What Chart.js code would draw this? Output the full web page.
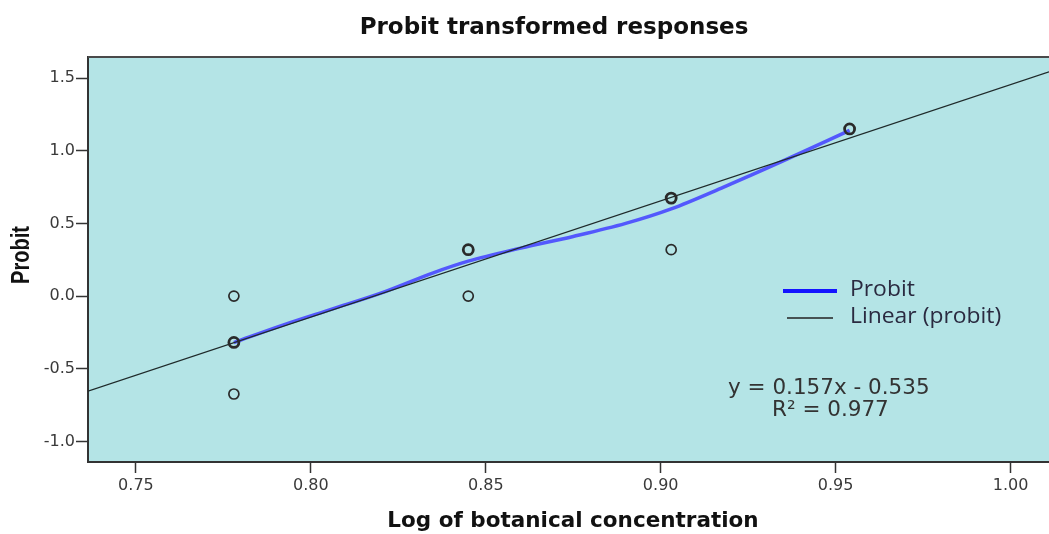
<!DOCTYPE html>
<html>
<head>
<meta charset="utf-8">
<script src="https://cdn.jsdelivr.net/npm/chart.js@4/dist/chart.umd.min.js"></script>
<style>
  html, body { margin: 0; padding: 0; background: #ffffff; }
  canvas { display: block; }
</style>
</head>
<body>
<canvas id="chart" width="1049" height="534"></canvas>
<script>
// Observed probit values at each log10 concentration (6, 7, 8, 9)
const obsX = [0.778, 0.778, 0.778, 0.845, 0.845, 0.903, 0.903, 0.954];
const obsY = [0.000, -0.319, -0.674, 0.319, 0.000, 0.674, 0.319, 1.150];
const obsCount = [1, 2, 1, 2, 1, 2, 1, 2];

// Smoothed probit curve
const curveX = [0.778, 0.792, 0.806, 0.820, 0.835, 0.845, 0.860, 0.875, 0.890, 0.903, 0.918, 0.935, 0.954];
const curveY = [-0.32, -0.20, -0.09, 0.02, 0.16, 0.24, 0.33, 0.41, 0.50, 0.60, 0.75, 0.93, 1.14];

// Linear trend (probit), end points across the plotted range
const trendX = [0.7363, 1.011];
const trendY = [-0.654, 1.543];

// Axis ticks
const xTicks = [0.75, 0.80, 0.85, 0.90, 0.95, 1.00];
const yTicks = [-1.0, -0.5, 0.0, 0.5, 1.0, 1.5];

const pts = (xs, ys) => xs.map((x, i) => ({ x: x, y: ys[i] }));

// Text drawn with a horizontal stretch around its anchor point
function stretchedText(ctx, text, x, y, sx) {
  ctx.save();
  ctx.translate(x, y);
  ctx.scale(sx, 1);
  ctx.fillText(text, 0, 0);
  ctx.restore();
}

const decorations = {
  id: 'decorations',
  beforeDraw(chart) {
    const { ctx, chartArea: a } = chart;
    ctx.save();
    ctx.fillStyle = '#ffffff';
    ctx.fillRect(0, 0, chart.width, chart.height);
    ctx.fillStyle = '#b4e4e6';
    ctx.fillRect(a.left, a.top, a.right - a.left, a.bottom - a.top);
    ctx.restore();
  },
  afterDraw(chart) {
    const { ctx, chartArea: a } = chart;
    ctx.save();
    // top frame line
    ctx.strokeStyle = '#4a4a4a';
    ctx.lineWidth = 2;
    ctx.beginPath();
    ctx.moveTo(a.left, a.top);
    ctx.lineTo(a.right, a.top);
    ctx.stroke();

    // title
    ctx.fillStyle = '#111111';
    ctx.textAlign = 'center';
    ctx.textBaseline = 'middle';
    ctx.font = 'bold 23px "DejaVu Sans"';
    ctx.fillText('Probit transformed responses', 554, 28);

    // x axis title
    ctx.font = 'bold 21.5px "DejaVu Sans"';
    ctx.fillText('Log of botanical concentration', 573, 521);

    // y axis title
    ctx.save();
    ctx.translate(22, 255);
    ctx.scale(1.3, 1);
    ctx.rotate(-Math.PI / 2);
    ctx.font = 'bold 20px "Liberation Sans"';
    ctx.fillText('Probit', 0, 0);
    ctx.restore();

    // legend
    ctx.lineCap = 'butt';
    ctx.strokeStyle = '#1414ff';
    ctx.lineWidth = 4;
    ctx.beginPath();
    ctx.moveTo(783, 291);
    ctx.lineTo(837, 291);
    ctx.stroke();
    ctx.strokeStyle = '#222222';
    ctx.lineWidth = 1.3;
    ctx.beginPath();
    ctx.moveTo(787, 318);
    ctx.lineTo(833, 318);
    ctx.stroke();
    ctx.fillStyle = '#2a2a40';
    ctx.textAlign = 'left';
    ctx.font = '21px "Open Sans"';
    stretchedText(ctx, 'Probit', 850, 290, 1.09);
    stretchedText(ctx, 'Linear (probit)', 850, 317, 1.09);

    // regression equation
    ctx.fillStyle = '#333333';
    ctx.font = '21.5px "DejaVu Sans"';
    ctx.fillText('y = 0.157x - 0.535', 728, 388);
    ctx.fillText('R\u00B2 = 0.977', 772, 410);
    ctx.restore();
  }
};

new Chart(document.getElementById('chart'), {
  type: 'scatter',
  data: {
    datasets: [
      {
        label: 'Observed',
        data: pts(obsX, obsY),
        pointStyle: 'circle',
        pointRadius: 5,
        pointBackgroundColor: 'rgba(0,0,0,0)',
        pointBorderColor: '#2a2a2a',
        pointBorderWidth: ctx => (obsCount[ctx.dataIndex] > 1 ? 2.8 : 1.7),
        showLine: false
      },
      {
        type: 'line',
        label: 'Linear (probit)',
        data: pts(trendX, trendY),
        borderColor: '#1f2a2a',
        borderWidth: 1.3,
        pointRadius: 0,
        tension: 0,
        fill: false
      },
      {
        type: 'line',
        label: 'Probit',
        data: pts(curveX, curveY),
        borderColor: 'rgba(72,72,255,0.9)',
        borderWidth: 3.5,
        pointRadius: 0,
        cubicInterpolationMode: 'monotone',
        fill: false
      }
    ]
  },
  options: {
    responsive: false,
    animation: false,
    devicePixelRatio: 1,
    layout: { autoPadding: false, padding: { top: 57, left: 0, right: 0, bottom: 0 } },
    plugins: {
      legend: { display: false },
      title: { display: false },
      tooltip: { enabled: false }
    },
    scales: {
      x: {
        type: 'linear',
        min: 0.7363,
        max: 1.011,
        afterBuildTicks: s => { s.ticks = xTicks.map(v => ({ value: v })); },
        afterFit: s => { s.height = 72; s.paddingLeft = 0; s.paddingRight = 0; },
        ticks: {
          callback: v => v.toFixed(2),
          color: '#3a3a3a',
          font: { family: 'DejaVu Sans', size: 16 },
          padding: 3,
          maxRotation: 0
        },
        grid: {
          drawOnChartArea: false,
          drawTicks: true,
          tickLength: 11,
          tickColor: '#333333',
          tickWidth: 1.5
        },
        border: { display: true, color: '#333333', width: 2 }
      },
      y: {
        type: 'linear',
        min: -1.142,
        max: 1.645,
        afterBuildTicks: s => { s.ticks = yTicks.map(v => ({ value: v })); },
        afterFit: s => { s.width = 88; s.paddingTop = 0; s.paddingBottom = 0; },
        ticks: {
          callback: v => v.toFixed(1),
          color: '#3a3a3a',
          font: { family: 'DejaVu Sans', size: 16 },
          padding: 1
        },
        grid: {
          drawOnChartArea: false,
          drawTicks: true,
          tickLength: 12,
          tickColor: '#333333',
          tickWidth: 1.5
        },
        border: { display: true, color: '#333333', width: 2 }
      }
    }
  },
  plugins: [decorations]
});
</script>
</body>
</html>
